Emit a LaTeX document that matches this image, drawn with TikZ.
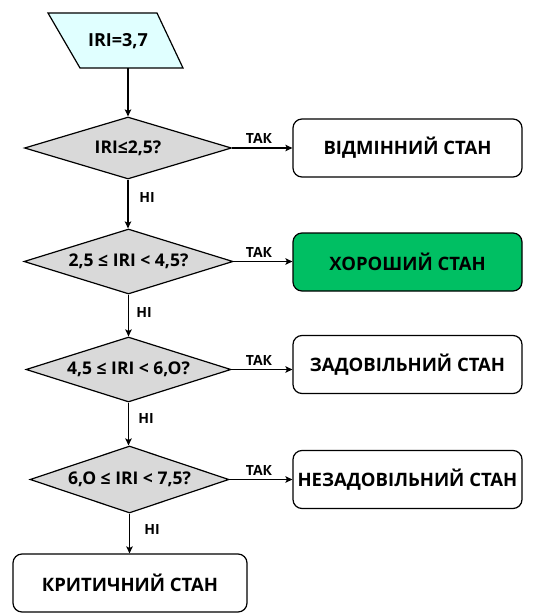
\documentclass[tikz,border=0pt]{standalone}
\usepackage{fontspec}
\setmainfont{Open Sans}
\usetikzlibrary{shapes.geometric,arrows.meta}
\definecolor{incyan}{HTML}{E0FFFF}
\definecolor{dgrey}{HTML}{D9D9D9}
\definecolor{okgreen}{HTML}{00BF63}
\begin{document}
\begin{tikzpicture}[x=1bp,y=-1bp,
  every node/.style={inner sep=0pt},
  dia/.style={draw=black, line width=1.2bp, fill=dgrey, shape=diamond, aspect=3.2,
    minimum width=205bp, minimum height=65bp, font=\bfseries\fontsize{17.5bp}{20bp}\selectfont},
  res/.style={draw=black, line width=1.2bp, rounded corners=9bp, minimum width=229bp,
    minimum height=58bp, font=\bfseries\fontsize{18.5bp}{20bp}\selectfont},
  lbl/.style={font=\bfseries\fontsize{14bp}{16bp}\selectfont},
  arr/.style={line width=1.3bp, -{Stealth[length=7bp,width=6.5bp,inset=1.5bp]}}
]
\useasboundingbox (0,0) rectangle (533,613);
% input parallelogram
\draw[fill=incyan, line width=1.2bp] (48,13) -- (157,13) -- (183,68) -- (80,68) -- cycle;
\node[font=\bfseries\fontsize{18bp}{21bp}\selectfont] (inp) at (118,41) {IRI=3,7};
\coordinate (inb) at (128,68);
% decisions
\node[dia, minimum width=207bp, minimum height=62bp] (d1) at (128,148) {IRI≤2,5?};
\node[dia, minimum width=209bp] (d2) at (128.5,261.5) {2,5 ≤ IRI < 4,5?};
\node[dia] (d3) at (128.5,369.5) {4,5 ≤ IRI < 6,O?};
\node[dia, minimum width=199bp, minimum height=67bp] (d4) at (129.5,479.5) {6,O ≤ IRI < 7,5?};
% results
\node[res] (b1) at (407.5,148) {ВІДМІННИЙ СТАН};
\node[res, fill=okgreen] (b2) at (407.5,262) {ХОРОШИЙ СТАН};
\node[res] (b3) at (407.5,364.5) {ЗАДОВІЛЬНИЙ СТАН};
\node[res] (b4) at (407.5,479.5) {НЕЗАДОВІЛЬНИЙ СТАН};
\node[res, minimum width=234bp] (b5) at (130,583) {КРИТИЧНИЙ СТАН};
% connectors
\draw[arr] (inb) -- (d1.north);
\draw[arr] (d1.east) -- (d1.east -| b1.west);
\draw[arr] (d2.east) -- (d2.east -| b2.west);
\draw[arr] (d3.east) -- (d3.east -| b3.west);
\draw[arr] (d4.east) -- (d4.east -| b4.west);
\draw[arr] (d1.south) -- (d1.south |- d2.north);
\draw[arr] (d2.south) -- (d2.south |- d3.north);
\draw[arr] (d3.south) -- (d3.south |- d4.north);
\draw[arr] (d4.south) -- (d4.south |- b5.north);
% labels
\node[lbl] (t1) at (259,138) {ТАК};
\node[lbl] (t2) at (259,252) {ТАК};
\node[lbl] (t3) at (259,360) {ТАК};
\node[lbl] (t4) at (259,470) {ТАК};
\node[lbl] (n1) at (147,197.5) {НІ};
\node[lbl] (n2) at (144,312) {НІ};
\node[lbl] (n3) at (146,418) {НІ};
\node[lbl] (n4) at (152,529) {НІ};
\end{tikzpicture}
\end{document}
